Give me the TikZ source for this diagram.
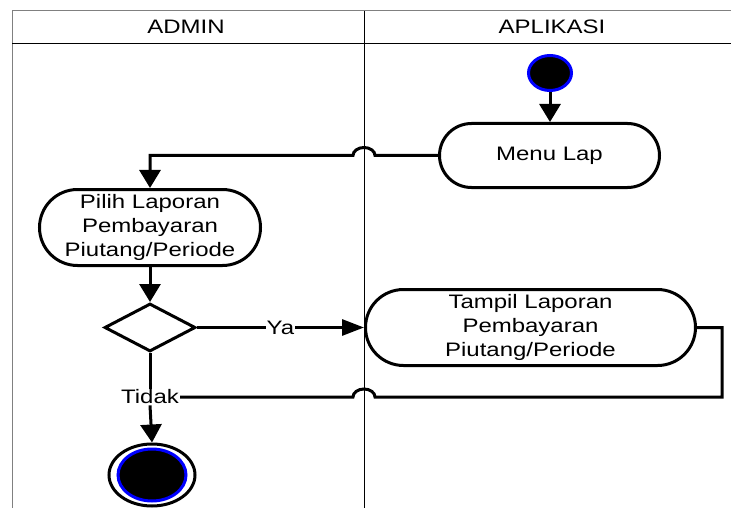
\documentclass[tikz,border=0pt]{standalone}
\usepackage{fontspec}
\setmainfont[FakeStretch=1.23]{Liberation Sans}
\usetikzlibrary{shapes.geometric,shapes.misc,arrows.meta}

\begin{document}
\begin{tikzpicture}[x=1pt,y=-1pt,
    every node/.style={font=\fontsize{19.5}{24}\selectfont},
    act/.style={draw,rounded rectangle,line width=3pt,align=center,inner sep=0pt},
    lane/.style={line width=1pt},
    flow/.style={line width=3pt,-{Triangle[length=18pt,width=21pt]}},
    flowh/.style={line width=3pt,-{Triangle[length=22pt,width=16pt]}},
    wire/.style={line width=3pt},
    lbl/.style={fill=white,inner sep=1pt}]
\useasboundingbox (0,0) rectangle (731,508);
\coordinate (lanediv) at (364,11) ; % divider
\coordinate (back) at (722,397) ; % return corner
\draw[lane,gray] (731,11) -- (12,11) -- (12,508) ; % frame
\draw[lane] (12,44) -- (731,44) ; % header
\draw[lane] (lanediv) -- (364,508) ; % lanes
\node (admin) at (186,27) {ADMIN} ;
\node (aplikasi) at (552,27) {APLIKASI} ;
\node[ellipse,draw=blue,fill=black,line width=3pt,inner sep=0pt,minimum width=43,minimum height=35] (start) at (550,73) {} ; % Start
\node[act,minimum width=220,minimum height=64] (menu) at (549.5,155.5) {Menu Lap} ; % Menu
\node[act,minimum width=221,minimum height=76] (pilih) at (150,227.5) {Pilih Laporan\\Pembayaran\\Piutang/Periode} ; % Pilih
\node[diamond,draw,line width=3pt,inner sep=0pt,minimum width=91,minimum height=48] (dec) at (150,327.5) {} ; % Decision
\node[act,minimum width=330,minimum height=76] (tampil) at (530.5,327.5) {Tampil Laporan\\Pembayaran\\Piutang/Periode} ; % Tampil
\node[inner sep=1pt] (tidak) at (150,397) {Tidak} ;
\node[ellipse,draw,fill=white,line width=3pt,inner sep=0pt,minimum width=86,minimum height=62] (end) at (152,475) {} ; % End
\node[ellipse,draw=blue,fill=black,line width=3pt,inner sep=0pt,minimum width=68,minimum height=52] (endin) at (152,475) {} ; % End.in
\draw[flow] (start.south) -- (start.south |- menu.north) ; % start
\draw[flow] (menu.west) -- ([xshift=11pt]lanediv |- menu.west) arc[start angle=0,end angle=180,x radius=11pt,y radius=8pt] -- (pilih.north |- menu.west) -- (pilih.north) ; % to admin
\draw[flow] (pilih.south) -- (dec.north) ;
\draw[flowh] (dec.east) -- node[lbl] {Ya} (tampil.west) ; % Ya
\draw[wire] (dec.south) -- (tidak.north) ; % Tidak
\draw[flow] (tidak.south) -- (end.north) ;
\draw[wire] (tampil.east) -- (tampil.east -| back) -- (back) -- ([xshift=11pt]lanediv |- back) arc[start angle=0,end angle=180,x radius=11pt,y radius=8pt] -- (tidak.east) ; % back
\end{tikzpicture}
\end{document}
